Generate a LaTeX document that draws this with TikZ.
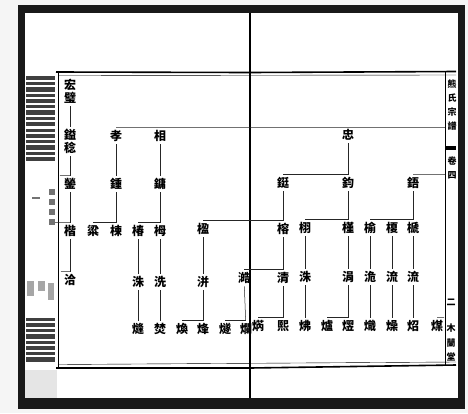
\documentclass[tikz,border=0pt]{standalone}
\usepackage{fontspec}
\newfontfamily\cjk{Noto Sans CJK TC}
\begin{document}
\begin{tikzpicture}[x=1pt,y=-1pt,
    every node/.style={font=\cjk\bfseries\fontsize{12}{12}\selectfont,inner sep=2.2pt,
      text height=10.5pt,text depth=1.5pt},
    head/.style={font=\cjk\bfseries\fontsize{9}{9}\selectfont,inner sep=0pt,
      text height=8pt,text depth=1pt}]
  \useasboundingbox (0,0) rectangle (468,413);
  % book and scan frame
  \fill[black!4] (0,0) rectangle (468,413);
  \fill[black!90] (18,5) rectangle (465,409);
  \fill[white] (25,13) rectangle (458,398);
  \fill[black!10] (25,370) rectangle (57,398);
  % fore-edge of the stacked leaves
  \foreach \y/\h in {76/4,82/3,87/5,94/3,99/4,105/3,110/5,117/3,122/4,
                     129/3,134/4,140/3,145/5,152/3,157/4}
    \fill[black!75] (26,\y) rectangle (55,{\y+\h});
  \foreach \y/\h in {318/3,323/4,329/3,334/5,341/3,346/4,352/3,357/5}
    \fill[black!75] (26,\y) rectangle (55,{\y+\h});
  \foreach \y in {189,199,209,219}
    \fill[black!55] (49,\y) rectangle (55,{\y+6});
  \fill[black!55] (32,197) rectangle (40,198.5);
  \fill[black!35] (27,281) rectangle (34,296);
  \fill[black!35] (38,281) rectangle (45,291);
  \fill[black!35] (48,283) rectangle (54,300);
  % rules of the two pages
  \draw[line width=1.6pt] (56,72) -- (250,72.5) -- (456,71.5);
  \draw[line width=0.4pt] (58,75.5) -- (456,75);
  \draw[line width=1.6pt] (56,368) -- (250,368) -- (456,365);
  \draw[line width=0.4pt] (58,364.5) -- (456,362);
  \draw[line width=0.5pt] (58,72) -- (58,368);
  \draw[line width=0.5pt] (445,72) -- (445,365);
  \draw[line width=1.1pt] (250,13) -- (250,398);
  \fill (445,146) rectangle (456,149.5);
  \draw
    (70,85) node (0){宏}
    (70,98) node (1){璧}
    (70,135) node (2){鎰}
    (70,148) node (3){稔}
    (70,184) node (4){鎣}
    (70,231) node (5){楷}
    (70,280) node (6){洽}
    (116,136) node (7){孝}
    (160,136) node (8){相}
    (116,184) node (9){鍾}
    (160,184) node (10){鏞}
    (93,231) node (11){粱}
    (116,231) node (12){棟}
    (138,231) node (13){椿}
    (160,231) node (14){栂}
    (203,229) node (15){楹}
    (138,282) node (16){洙}
    (160,282) node (17){洗}
    (203,282) node (18){洴}
    (244,278) node (19){澔}
    (138,329) node (20){熢}
    (160,329) node (21){焚}
    (182,329) node (22){煥}
    (203,329) node (23){烽}
    (225,329) node (24){燧}
    (246,329) node (25){爛}
    (348,135) node (26){忠}
    (283,183) node (27){鋌}
    (348,183) node (28){鈞}
    (413,183) node (29){鋙}
    (283,229) node (30){榕}
    (305,228) node (31){栩}
    (348,228) node (32){槿}
    (370,228) node (33){榆}
    (392,228) node (34){榎}
    (413,228) node (35){榹}
    (283,278) node (36){清}
    (305,277) node (37){洙}
    (348,277) node (38){涓}
    (370,277) node (39){洈}
    (392,277) node (40){流}
    (413,277) node (41){流}
    (258,326) node (42){焫}
    (283,326) node (43){熙}
    (305,326) node (44){炥}
    (327,326) node (45){爐}
    (348,326) node (46){熤}
    (370,326) node (47){熾}
    (392,326) node (48){燥}
    (413,326) node (49){炤}
    (437,326) node (50){煤};
  \draw
    (452,84) node[head] (51){熊}
    (452,98) node[head] (52){氏}
    (452,112) node[head] (53){宗}
    (452,126) node[head] (54){譜}
    (452,161) node[head] (55){卷}
    (452,175) node[head] (56){四}
    (451,302) node[head] (57){二}
    (451,328) node[head] (58){木}
    (451,343) node[head] (59){蘭}
    (451,357) node[head] (60){堂};
  \coordinate (t4) at (60,175.5);
  \coordinate (t5) at (55,222.5);
  \coordinate (t6) at (61,271.5);
  \coordinate (e0) at (445,127.5);
  \coordinate (e1) at (445,174.5);
  \coordinate (e2) at (444,317.5);
  \begin{scope}[-,line width=0.5pt,black!85]
    \draw (1) to (2);
    \draw (3) to (4);
    \draw (4) to (5);
    \draw (5) to (6);
    \draw (4.north) to (t4);
    \draw (5.north) to (t5);
    \draw (6.north) to (t6);
    \draw (7.north) to (e0);
    \draw (7) to (9);
    \draw (8) to (10);
    \draw (26) to (28);
    \draw (27.north) to (28.north);
    \draw (29.north) to (e1);
    \draw (9) to (12);
    \draw (11.north) to (12.north);
    \draw (10) to (14);
    \draw (13.north) to (14.north);
    \draw (27) to (30);
    \draw (15.north) to (30.north);
    \draw (28) to (32);
    \draw (31.north) to (32.north);
    \draw (29) to (35);
    \draw (33.north) to (35.north);
    \draw (13) to (16);
    \draw (14) to (17);
    \draw (15) to (18);
    \draw (30) to (36);
    \draw (31) to (37);
    \draw (32) to (38);
    \draw (33) to (39);
    \draw (34) to (40);
    \draw (35) to (41);
    \draw (19.north) to (36.north);
    \draw (16) to (20);
    \draw (17) to (21);
    \draw (18) to (23);
    \draw (22.north) to (23.north);
    \draw (19) to (25);
    \draw (24.north) to (25.north);
    \draw (36) to (43);
    \draw (42.north) to (43.north);
    \draw (37) to (44);
    \draw (38) to (46);
    \draw (45.north) to (46.north);
    \draw (39) to (47);
    \draw (40) to (48);
    \draw (41) to (49);
    \draw (50.north) to (e2);
  \end{scope}
\end{tikzpicture}
\end{document}
